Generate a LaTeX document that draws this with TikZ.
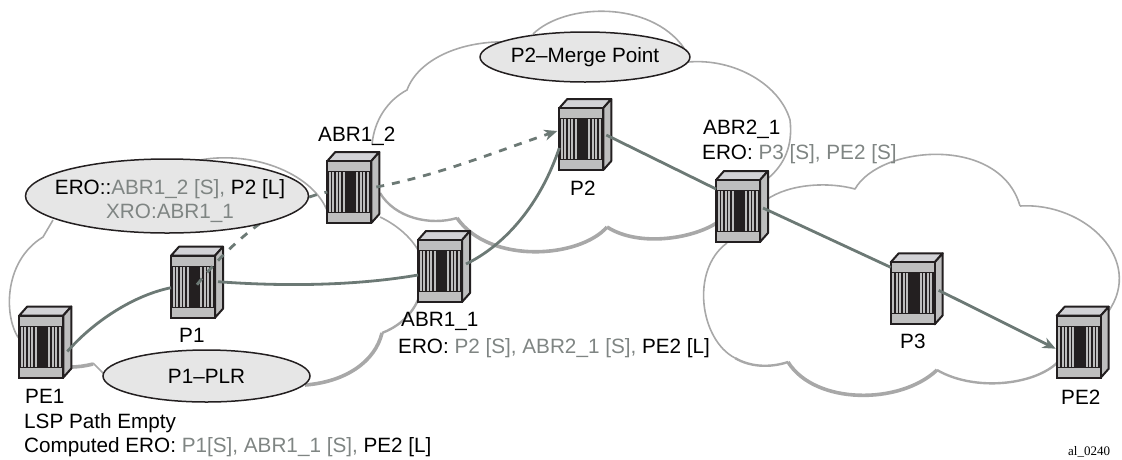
\documentclass[tikz,border=0pt]{standalone}
\usepackage{fontspec}
\setmainfont{Liberation Sans}
\newfontfamily\serifnote{Liberation Serif}
\usetikzlibrary{shapes.geometric,arrows.meta}
\definecolor{cloudgray}{HTML}{A8A8A8}
\definecolor{linkgray}{HTML}{6C7975}
\definecolor{txtgray}{HTML}{7F8583}
\definecolor{ellfill}{HTML}{E6E6E6}
\definecolor{routerfront}{HTML}{BEBEBE}
\definecolor{routertop}{HTML}{D2D2D6}
\definecolor{routerk}{HTML}{231F20}
\tikzset{
  cloudthin/.style={draw=cloudgray,line width=1.6pt,line join=round},
  cloudmid/.style={draw=cloudgray,line width=2.4pt,line join=round},
  cloudthick/.style={draw=cloudgray,line width=3.6pt,line join=round},
  link/.style={draw=linkgray,line width=2.8pt},
  dashlink/.style={draw=linkgray,line width=2.8pt,dash pattern=on 8pt off 8pt},
  arrowtip/.style={-{Stealth[length=13pt,width=11pt,inset=4pt]}},
  bubble/.style={ellipse,draw=routerk,fill=ellfill,line width=1.5pt,inner sep=0pt,align=center,font=\fontsize{20.7pt}{24.5pt}\selectfont},
  lbl/.style={anchor=base west,inner sep=0pt,font=\fontsize{20.7pt}{24.5pt}\selectfont},
  routerbox/.style={rectangle,minimum width=44pt,minimum height=62pt,inner sep=0pt,outer sep=0pt,fill=routerfront,draw=routerk,line width=2pt}
}
\newcommand{\routerat}[3]{%
  \begin{scope}[shift={(#2,#3)}]
    \draw[routerk,line width=2pt,line join=round,fill=routertop] (0,0) -- (8,-9) -- (52,-9) -- (44,0) -- cycle;
    \draw[routerk,line width=2pt,line join=round,fill=routerfront] (44,0) -- (52,-9) -- (52,53) -- (44,62) -- cycle;
    \node[routerbox] (#1) at (22,31) {};
    \fill[routerk] (0,10) rectangle (44,52);
    \foreach \sx in {1.5,5,8.5,12,15.5,29,32.5,36,39.5}{\fill[routerfront] (\sx,11) rectangle +(2.1,40);}
    \fill[routerk] (18,10) rectangle (27,52);
    \draw[routerk,line width=2pt] (#1.north west) rectangle (#1.south east);
  \end{scope}}
\begin{document}
\begin{tikzpicture}[x=1pt,y=-1pt]
\useasboundingbox (0,0) rectangle (1122,459);
\clip (0,0) rectangle (1122,459);
% cloud 1
\draw[cloudthin] (20,340) .. controls (4,320) and (2,262) .. (43,237) -- (53,220);
\draw[cloudthin] (200,160) .. controls (255,150) and (315,175) .. (328,213);
\draw[cloudthin] (380,217) .. controls (395,224) and (410,236) .. (418,250);
\draw[cloudmid] (418,300) .. controls (410,318) and (395,328) .. (382,333);
\draw[cloudthick] (382,333) .. controls (375,362) and (345,382) .. (305,385);
\draw[cloudthin] (108,378) .. controls (102,372) and (98,368) .. (93,363);
\draw[cloudthick] (93,364) .. controls (85,366) and (78,367) .. (70,367);
% cloud 2
\draw[cloudthin] (372,145) .. controls (374,120) and (388,100) .. (407,90) .. controls (418,60) and (460,40) .. (510,42);
\draw[cloudthin] (533,34) .. controls (565,3) and (650,0) .. (684,48);
\draw[cloudthin] (688,62) .. controls (735,58) and (780,85) .. (790,120) .. controls (793,145) and (785,165) .. (766,180);
\draw[cloudthick] (718,222) .. controls (695,238) and (640,248) .. (607,227);
\draw[cloudthick] (607,227) .. controls (580,258) and (490,265) .. (457,218);
\draw[cloudmid] (457,218) .. controls (430,226) and (395,218) .. (380,193);
% cloud 3
\draw[cloudthin] (766,200) .. controls (790,183) and (830,182) .. (855,189) .. controls (880,145) and (1000,135) .. (1020,206);
\draw[cloudthin] (1020,206) .. controls (1085,202) and (1145,260) .. (1108,312);
\draw[cloudmid] (1058,362) .. controls (1035,385) and (975,392) .. (937,370);
\draw[cloudthick] (937,370) .. controls (900,405) and (815,405) .. (788,362);
\draw[cloudmid] (788,362) .. controls (770,368) and (750,367) .. (735,358);
\draw[cloudthin] (735,358) .. controls (700,340) and (690,270) .. (727,243);
% routers
\routerat{pe1}{19.3}{315.5}
\routerat{p1}{171}{255.7}
\routerat{abr12}{327.3}{161}
\routerat{abr11}{418}{240}
\routerat{p2}{559.3}{108}
\routerat{abr21}{716}{180}
\routerat{p3}{890.7}{262.3}
\routerat{pe2}{1056.7}{315.7}
% connectors
\draw[link] ([xshift=4pt,yshift=-5pt]pe1.east) .. controls (95,320) and (135,295) .. ([yshift=-1pt]p1.west);
\draw[link] ([xshift=3pt,yshift=5pt]p1.east) .. controls (290,287) and (360,285) .. ([yshift=-4pt]abr11.west);
\draw[link] ([xshift=4pt,yshift=7pt]abr11.east) .. controls (505,245) and (540,205) .. ([yshift=-9pt]p2.west);
\draw[link] ([xshift=3pt,yshift=4pt]p2.east) -- ([yshift=22pt]abr21.west);
\draw[link] ([xshift=3pt,yshift=3pt]abr21.east) -- ([xshift=0pt,yshift=26pt]p3.west);
\draw[link,arrowtip] ([xshift=4pt,yshift=3pt]p3.east) -- ([yshift=-2pt,xshift=-1pt]pe2.west);
\draw[dashlink] ([xshift=4pt,yshift=2pt]p1.center) .. controls (215,262) and (265,205) .. (abr12.west);
\draw[dashlink,arrowtip] ([xshift=5pt,yshift=5pt]abr12.east) .. controls (440,175) and (500,150) .. ([xshift=-2pt,yshift=8pt]p2.west);
% ovals
\node[bubble,minimum width=283pt,minimum height=74pt,
  label={[name=oerotext,align=center,inner sep=0pt,xshift=3pt,yshift=-5pt,font=\fontsize{20.7pt}{23.5pt}\selectfont]center:ERO::\textcolor{txtgray}{ABR1\_2 [S],} P2 [L]\\\textcolor{txtgray}{XRO:ABR1\_1}}] (oero) at (167,196) {};
\node[bubble,minimum width=207pt,minimum height=52pt] (oplr) at (206.5,376) {P1--PLR};
\node[bubble,minimum width=206pt,minimum height=50pt] (omerge) at (585,57) {P2--Merge Point};
% labels
\node[lbl] (t1) at (318,141) {ABR1\_2};
\node[lbl] (t2) at (570,195) {P2};
\node[lbl] (t3) at (703,134) {ABR2\_1};
\node[lbl] (t4) at (702,159) {ERO: \textcolor{txtgray}{P3 [S], PE2 [S]}};
\node[lbl] (t5) at (179,342) {P1};
\node[lbl] (t6) at (401,326) {ABR1\_1};
\node[lbl] (t7) at (398,353) {ERO: \textcolor{txtgray}{P2 [S], ABR2\_1 [S],} PE2 [L]};
\node[lbl] (t8) at (25,403) {PE1};
\node[lbl] (t9) at (24,428) {LSP Path Empty};
\node[lbl] (t10) at (24,452) {Computed ERO: \textcolor{txtgray}{P1[S], ABR1\_1 [S],} PE2 [L]};
\node[lbl] (t11) at (900,348) {P3};
\node[lbl] (t12) at (1061,404) {PE2};
\node[anchor=base west,inner sep=0pt,font=\serifnote\fontsize{13pt}{15pt}\selectfont] (t13) at (1068,455) {al\_0240};
\end{tikzpicture}
\end{document}
